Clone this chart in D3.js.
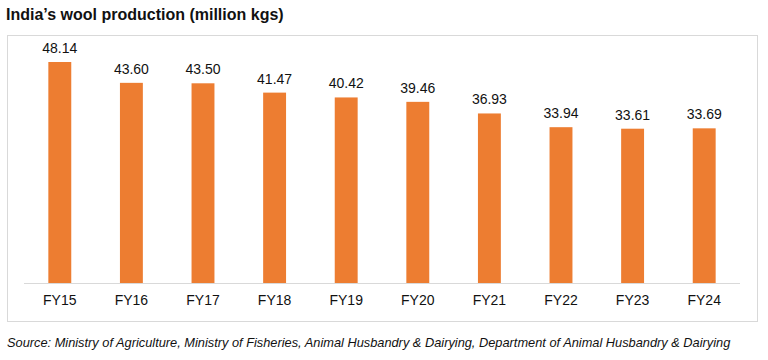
<!DOCTYPE html>
<html><head><meta charset="utf-8">
<script src="https://cdn.jsdelivr.net/npm/d3@7/dist/d3.min.js"></script>
<style>body{margin:0;background:#fff;}svg{display:block;font-family:"Liberation Sans",Arial,sans-serif;}</style>
</head><body><svg id="c" width="768" height="360"></svg>
<script>
const categories = ["FY15","FY16","FY17","FY18","FY19","FY20","FY21","FY22","FY23","FY24"];
const values = [48.14,43.60,43.50,41.47,40.42,39.46,36.93,33.94,33.61,33.69];
const labels = ["48.14","43.60","43.50","41.47","40.42","39.46","36.93","33.94","33.61","33.69"];

const svg = d3.select("#c");
svg.append("text").attr("x",6).attr("y",20).attr("font-size",16).attr("font-weight","bold").attr("fill","#111")
  .text("India’s wool production (million kgs)");
svg.append("rect").attr("x",7.5).attr("y",35.5).attr("width",750).attr("height",286).attr("fill","none").attr("stroke","#d9d9d9");

const x = d3.scaleBand().domain(categories).range([24,740]).paddingInner(0.68).paddingOuter(0.34);
const y = d3.scaleLinear().domain([0,48.14]).range([283,62]);

svg.selectAll("rect.bar").data(values).join("rect").attr("class","bar")
  .attr("x",(d,i)=>x(categories[i])).attr("width",x.bandwidth())
  .attr("y",d=>y(d)).attr("height",d=>283-y(d)).attr("fill","#ed7d31");

svg.selectAll("text.val").data(values).join("text").attr("class","val")
  .attr("x",(d,i)=>x(categories[i])+x.bandwidth()/2).attr("y",d=>y(d)-9)
  .attr("text-anchor","middle").attr("font-size",14).attr("fill","#111").text((d,i)=>labels[i]);

const ax = svg.append("g").attr("transform","translate(0,283)").call(d3.axisBottom(x).tickSize(0).tickPadding(12));
ax.select(".domain").attr("stroke","#d9d9d9").attr("d","M24,0.5H740");
ax.selectAll("text").attr("font-size",14).attr("fill","#111").attr("font-family","Liberation Sans,Arial,sans-serif");

svg.append("text").attr("x",7).attr("y",347).attr("font-size",12.8).attr("font-style","italic").attr("fill","#111")
  .text("Source: Ministry of Agriculture, Ministry of Fisheries, Animal Husbandry & Dairying, Department of Animal Husbandry & Dairying");
</script></body></html>
